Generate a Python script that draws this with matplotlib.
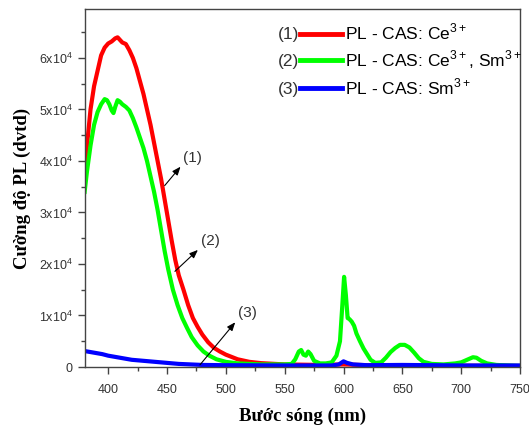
# PL spectra of CAS phosphors (Ce3+, Ce3+/Sm3+, Sm3+)
import matplotlib
matplotlib.use("Agg")
import matplotlib.pyplot as plt
from matplotlib.ticker import FuncFormatter, MultipleLocator

# Curve (1): PL - CAS: Ce3+
wl_ce = [380, 382, 385, 388, 391, 394, 397, 400, 403, 406, 408, 410, 412, 415,
         418, 421, 424, 427, 430, 433, 436, 439, 442, 445, 448, 451, 454, 457,
         460, 464, 468, 472, 476, 480, 485, 490, 495, 500, 510, 520, 530, 550,
         580, 600, 620, 650, 700, 750]
pl_ce = [39000, 43000, 50000, 54500, 57500, 60500, 62000, 62800, 63200, 63800,
         64000, 63500, 63000, 62700, 61500, 60000, 58000, 55500, 53000, 50000,
         47000, 43500, 40000, 36500, 32500, 28500, 24500, 20800, 17800, 15000,
         12000, 9500, 7800, 6300, 4800, 3700, 3000, 2400, 1500, 1000, 750, 500,
         400, 500, 350, 350, 250, 200]

# Curve (2): PL - CAS: Ce3+, Sm3+
wl_cesm = [380, 382, 385, 388, 391, 394, 397, 399, 401, 403, 404.5, 406, 408,
           410, 412, 415, 418, 421, 424, 427, 430, 433, 436, 439, 442, 445, 448,
           451, 455, 459, 463, 467, 471, 476, 481, 486, 492, 500, 510, 530, 550,
           556, 559, 562, 564, 566, 568, 570, 572, 575, 580, 585, 590, 594, 597,
           599, 600.5, 602, 603.5, 605, 607, 609, 611, 614, 617, 620, 623, 627,
           632, 636, 640, 644, 648, 652, 656, 660, 664, 668, 675, 685, 695, 700,
           705, 710, 713, 717, 722, 730, 740, 750]
pl_cesm = [34000, 38000, 43000, 47000, 49500, 51000, 52000, 51800, 51000, 49800,
           49300, 50500, 51800, 51500, 51000, 50500, 49800, 48300, 46500, 44500,
           42500, 40000, 37000, 34000, 30500, 26500, 22500, 19000, 15000, 12000,
           9500, 7600, 5800, 4200, 3000, 2200, 1500, 1000, 700, 500, 500,
           600, 1500, 3000, 3300, 2400, 2200, 3000, 2500, 1200, 700, 700, 900,
           2200, 5000, 12000, 17500, 14000, 9500, 9300, 8800, 8000, 6500, 5000,
           3600, 2500, 1400, 800, 900, 1800, 2900, 3700, 4300, 4300, 3800, 2800,
           1700, 1000, 600, 500, 700, 900, 1400, 1900, 1800, 1200, 700, 400, 300,
           200]

# Curve (3): PL - CAS: Sm3+
wl_sm = [380, 385, 390, 395, 400, 405, 410, 415, 420, 430, 440, 450, 460, 470,
         480, 500, 550, 590, 596, 600, 603, 608, 620, 650, 700, 750]
pl_sm = [3100, 2900, 2700, 2500, 2200, 2000, 1800, 1600, 1400, 1200, 1000, 800,
         600, 500, 400, 350, 300, 300, 500, 1100, 800, 500, 350, 400, 300, 300]

labels = [r"PL - CAS: $\mathrm{Ce}^{3+}$",
          r"PL - CAS: $\mathrm{Ce}^{3+}$, $\mathrm{Sm}^{3+}$",
          r"PL - CAS: $\mathrm{Sm}^{3+}$"]
colors = ["#ff0000", "#00ff00", "#0000ff"]

# arrow labels: (text, arrow tail, arrow head / text spot)
notes = [("(1)", (446.5, 34800), (463, 39300)),
         ("(2)", (455, 18200), (478, 23100)),
         ("(3)", (476.5, 0), (509.5, 9100))]

plt.rcParams["font.family"] = ["Liberation Sans", "DejaVu Sans"]
plt.rcParams["mathtext.fontset"] = "custom"
plt.rcParams["mathtext.rm"] = "Liberation Sans"

fig = plt.figure(figsize=(5.29, 4.30), dpi=100)
ax = fig.add_axes([0.16, 0.1465, 0.823, 0.8326])

series = [(wl_ce, pl_ce), (wl_cesm, pl_cesm), (wl_sm, pl_sm)]
for (x, y), c, lab in zip(series, colors, labels):
    ax.plot(x, y, color=c, lw=3.0, label=lab, solid_joinstyle="round")

ax.set_xlim(380, 750)
ax.set_ylim(0, 69500)
ax.xaxis.set_major_locator(MultipleLocator(50))
ax.xaxis.set_minor_locator(MultipleLocator(25))
ax.yaxis.set_major_locator(MultipleLocator(10000))
ax.yaxis.set_minor_locator(MultipleLocator(5000))


def sci(v, pos):
    if v == 0:
        return "0"
    return r"%dx10$^{4}$" % round(v / 10000)


ax.yaxis.set_major_formatter(FuncFormatter(sci))
ax.tick_params(which="major", direction="out", length=5, width=1,
               color="#444444", labelsize=9, labelcolor="#333333")
ax.tick_params(which="minor", direction="out", length=3, width=1,
               color="#444444")
ax.tick_params(axis="x", pad=7)
for sp in ax.spines.values():
    sp.set_color("#444444")
    sp.set_linewidth(1.0)

lab_font = dict(family="Liberation Serif", weight="bold", size=13.5)
ax.set_xlabel("Bước sóng (nm)", labelpad=9, **lab_font)
ax.set_ylabel("Cường độ PL (dvtd)", labelpad=6, **lab_font)

# legend with the (n) marks in front of the handles
leg = ax.legend(loc="upper left", bbox_to_anchor=(0.495, 0.963), frameon=False,
                fontsize=12.5, handlelength=2.4, handletextpad=0.2,
                labelspacing=0.32, borderpad=0, borderaxespad=0)
for line in leg.get_lines():
    line.set_linewidth(3.5)
for i, yy in enumerate([0.930, 0.853, 0.775]):
    ax.text(0.493, yy, "(%d)" % (i + 1), transform=ax.transAxes, ha="right",
            va="center", fontsize=12.5, color="#333333")

for txt, tail, head in notes:
    ax.annotate("", xy=head, xytext=tail,
                arrowprops=dict(arrowstyle="-|>,head_length=0.5,head_width=0.2",
                                color="black", lw=0.8))
    ax.text(head[0] + 1, head[1], txt, ha="left", va="bottom", fontsize=11,
            color="#333333")

fig.savefig("out.png", dpi=100)
